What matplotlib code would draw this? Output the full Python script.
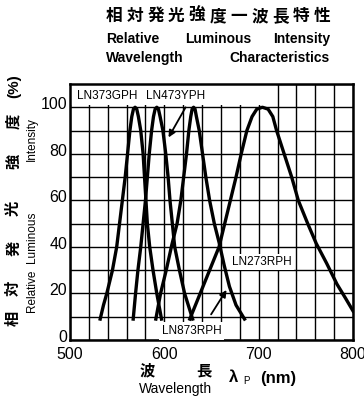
import matplotlib
matplotlib.use('Agg')
import matplotlib.pyplot as plt
import matplotlib.transforms as mtransforms
from matplotlib.patches import Rectangle

# Relative luminous intensity vs wavelength

wl_373g = [532, 535.5, 539, 542, 545, 549.5, 552.5, 555.5, 558.5, 561, 563.5, 565.5, 567.3, 569,
           570.7, 572.5, 575, 577.5, 579, 580.5, 582, 584.5, 588, 592, 597]
ri_373g = [9, 15, 20, 25, 30, 40, 50, 60, 70, 80, 90, 96, 99.3, 100,
           99.3, 96, 90, 80, 70, 60, 50, 40, 30, 20, 9]

wl_473y = [567, 569.5, 572, 575, 577.5, 580, 582, 584, 586.5, 588.5, 590.3, 592,
           593.7, 595.5, 598.5, 601.5, 604, 606, 608.5, 611, 616, 621.5, 630]
ri_473y = [9, 20, 30, 40, 50, 60, 70, 80, 90, 96, 99.3, 100,
           99.3, 96, 90, 80, 70, 60, 50, 40, 30, 20, 9]

wl_873r = [591, 596, 602, 608, 613.5, 617.5, 620.5, 623.5, 626, 628, 629.5, 631,
           632.5, 634, 637, 640.5, 644, 648, 653, 658, 663.5, 669, 676, 685]
ri_873r = [9, 20, 30, 41, 50, 60, 70, 80, 90, 96, 99.3, 100,
           99.3, 96, 90, 80, 70, 60, 50, 42, 32, 23, 15, 9]

wl_273r = [627, 634, 641, 649, 658, 664, 670, 676, 681.5, 687.5, 693, 698, 704,
           710, 715, 719, 727, 735, 742, 752, 761, 772, 783, 792, 800]
ri_273r = [9, 16, 23, 31, 40, 50, 60, 70, 80, 90, 96, 99.2, 100,
           99.2, 96, 90, 80, 70, 60, 50, 41.5, 33, 24, 18, 12.5]

x_ticks = [500, 600, 700, 800]
y_ticks = [0, 20, 40, 60, 80, 100]

title_jp = "相対発光強度一波長特性"
ylabel_jp = ["相", "対", "発", "光", "強", "度"]

W, H = 364, 396


def fx(x):
    return x / W


def fy(y):
    return 1 - y / H


JP = ['Noto Sans CJK JP', 'DejaVu Sans']
SANS = ['Liberation Sans', 'DejaVu Sans']

fig = plt.figure(figsize=(W / 100, H / 100), dpi=100)
ax = fig.add_axes([70 / W, 56 / H, 283 / W, 256 / H])

for wl, ri in [(wl_373g, ri_373g), (wl_473y, ri_473y), (wl_873r, ri_873r), (wl_273r, ri_273r)]:
    ax.plot(wl, ri, color='black', lw=2.4, zorder=3)

ax.set_xlim(500, 800)
ax.set_ylim(0, 110)
ax.set_xticks(x_ticks)
ax.set_xticks(range(500, 801, 20), minor=True)
ax.set_yticks(y_ticks)
ax.set_yticks(range(0, 111, 10), minor=True)
ax.grid(which='both', color='black', lw=1.0)
ax.set_axisbelow(True)
ax.tick_params(which='both', length=0)
ax.tick_params(axis='x', pad=5)
ax.tick_params(axis='y', pad=2)
for s in ax.spines.values():
    s.set_linewidth(1.8)

# labels sit a little above their grid lines in the scan
lift = mtransforms.ScaledTranslation(0, 4 / 100, fig.dpi_scale_trans)
for lbl in ax.get_yticklabels():
    lbl.set_transform(lbl.get_transform() + lift)
for lbl in ax.get_xticklabels() + ax.get_yticklabels():
    lbl.set_fontfamily(SANS)
    lbl.set_fontsize(11.5)

# white band behind the top labels
ax.add_patch(Rectangle((500, 101), 218, 9, facecolor='white', edgecolor='none', zorder=1.5))

ax.text(507, 105, "LN373GPH", fontsize=8.5, family=SANS, va='center', ha='left', zorder=4)
ax.text(581, 105, "LN473YPH", fontsize=8.5, family=SANS, va='center', ha='left', zorder=4)
ax.annotate("", xy=(603, 86), xytext=(624, 101),
            arrowprops=dict(arrowstyle='-|>', color='black', lw=1.3, mutation_scale=10), zorder=4)

ax.text(672, 33.5, "LN273RPH", fontsize=8.5, family=SANS, va='center', ha='left', zorder=4,
        bbox=dict(boxstyle='square,pad=0.15', facecolor='white', edgecolor='none'))
ax.text(597, 4, "LN873RPH", fontsize=8.5, family=SANS, va='center', ha='left', zorder=4,
        bbox=dict(boxstyle='square,pad=0.25', facecolor='white', edgecolor='none'))
ax.annotate("", xy=(667.5, 22.5), xytext=(648, 10),
            arrowprops=dict(arrowstyle='-|>', color='black', lw=1.3, mutation_scale=10), zorder=4)

# title
for i, ch in enumerate(title_jp):
    fig.text(fx(114 + i * 20.8), fy(16), ch, family=JP, fontsize=12, fontweight='bold',
             ha='center', va='center')
fig.text(fx(106), fy(39), "Relative", family=SANS, fontsize=10, fontweight='bold', ha='left', va='center')
fig.text(fx(185), fy(39), "Luminous", family=SANS, fontsize=10, fontweight='bold', ha='left', va='center')
fig.text(fx(330), fy(39), "Intensity", family=SANS, fontsize=10, fontweight='bold', ha='right', va='center')
fig.text(fx(106), fy(58), "Wavelength", family=SANS, fontsize=10, fontweight='bold', ha='left', va='center')
fig.text(fx(330), fy(58), "Characteristics", family=SANS, fontsize=10, fontweight='bold', ha='right', va='center')

# y axis label
for ch, yy in zip(ylabel_jp, [318, 288, 248, 208, 161, 121]):
    fig.text(fx(13), fy(yy), ch, family=JP, fontsize=11, fontweight='bold', rotation=90,
             ha='center', va='center')
fig.text(fx(14), fy(86), "(%)", family=SANS, fontsize=11, fontweight='bold', rotation=90,
         ha='center', va='center')
fig.text(fx(32), fy(291), "Relative", family=SANS, fontsize=8.5, rotation=90, ha='center', va='center')
fig.text(fx(32), fy(237), "Luminous", family=SANS, fontsize=8.5, rotation=90, ha='center', va='center')
fig.text(fx(32), fy(139), "Intensity", family=SANS, fontsize=8.5, rotation=90, ha='center', va='center')

# x axis label
fig.text(fx(147.5), fy(370), "波", family=JP, fontsize=11, fontweight='bold', ha='center', va='center')
fig.text(fx(203.5), fy(370), "長", family=JP, fontsize=11, fontweight='bold', ha='center', va='center')
fig.text(fx(175.5), fy(389), "Wavelength", family=SANS, fontsize=10, ha='center', va='center')
fig.text(fx(234), fy(378), "λ", family=SANS, fontsize=12, fontweight='bold', ha='center', va='center')
fig.text(fx(246), fy(381), "P", family=SANS, fontsize=7, ha='center', va='center')
fig.text(fx(278), fy(378), "(nm)", family=SANS, fontsize=12, fontweight='bold', ha='center', va='center')

fig.savefig('out.png', dpi=100)
